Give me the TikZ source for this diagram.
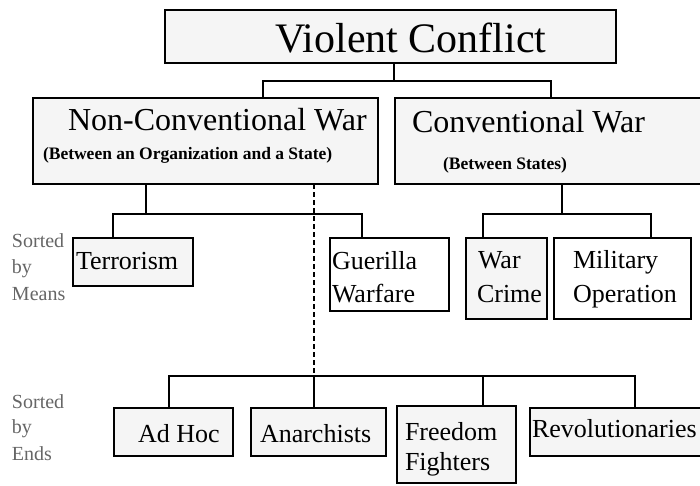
\documentclass[tikz,border=0pt]{standalone}
\usepackage{fontspec}
\setmainfont{Liberation Serif}
\begin{document}
\begin{tikzpicture}[x=1pt,y=-1pt,
  box/.style={draw, line width=1.7pt, fill=black!4, inner sep=0pt, outer sep=0pt, anchor=north west},
  wbox/.style={box, fill=white},
  txt/.style={anchor=base west, inner sep=0pt, outer sep=0pt},
  big/.style={txt, font=\fontsize{42}{42}\selectfont},
  mid/.style={txt, font=\fontsize{32}{32}\selectfont},
  sub/.style={txt, font=\bfseries\fontsize{17.5}{17.5}\selectfont},
  sml/.style={txt, font=\fontsize{26}{26}\selectfont},
  side/.style={txt, text=black!60, font=\fontsize{20}{20}\selectfont},
  con/.style={line width=1.6pt, line join=miter},
  dashedcon/.style={line width=1.3pt, dash pattern=on 5pt off 3pt}]
\useasboundingbox (0,0) rectangle (700,485);

% boxes
\node[box, minimum width=451pt, minimum height=53pt] (vc) at (165,10) {};
\node[box, minimum width=345pt, minimum height=86pt] (ncw) at (33,98) {};
\node[box, minimum width=310pt, minimum height=86pt] (cw) at (395,98) {};
\node[box, minimum width=120pt, minimum height=48pt] (ter) at (73,238) {};
\node[wbox, minimum width=119pt, minimum height=73pt] (gue) at (330,238) {};
\node[box, minimum width=81pt, minimum height=81pt] (war) at (466,238) {};
\node[wbox, minimum width=137pt, minimum height=81pt] (mil) at (554,238) {};
\node[box, minimum width=119pt, minimum height=48pt] (adh) at (114,408) {};
\node[box, minimum width=135pt, minimum height=48pt] (ana) at (251,408) {};
\node[box, minimum width=119pt, minimum height=77pt] (fre) at (397,406) {};
\node[box, minimum width=175pt, minimum height=48pt] (rev) at (530,408) {};

% texts
\node[big] (vct) at (275,52) {Violent Conflict};
\node[mid] (ncwt) at (68,130) {Non-Conventional War};
\node[sub] (ncws) at (43,159) {(Between an Organization and a State)};
\node[mid] (cwt) at (412,132) {Conventional War};
\node[sub] (cws) at (443,169) {(Between States)};
\node[sml] (tert) at (76,269) {Terrorism};
\node[sml] (guet1) at (332,269) {Guerilla};
\node[sml] (guet2) at (332,302) {Warfare};
\node[sml] (wart1) at (478,268) {War};
\node[sml] (wart2) at (477,302) {Crime};
\node[sml] (milt1) at (573,268) {Military};
\node[sml] (milt2) at (573,302) {Operation};
\node[sml] (adht) at (138,442) {Ad Hoc};
\node[sml] (anat) at (260,442) {Anarchists};
\node[sml] (fret1) at (405,440) {Freedom};
\node[sml] (fret2) at (405,470) {Fighters};
\node[sml] (revt) at (532,437) {Revolutionaries};

% side labels
\node[side] (m1) at (12,247) {Sorted};
\node[side] (m2) at (12,273) {by};
\node[side] (m3) at (12,300) {Means};
\node[side] (e1) at (12,408) {Sorted};
\node[side] (e2) at (12,433) {by};
\node[side] (e3) at (12,460) {Ends};

% junction coordinates
\coordinate (h1M) at (394,81);
\coordinate (h1L) at (263,81);
\coordinate (h1R) at (551,81);
\coordinate (h2M) at (146,214);
\coordinate (h2L) at (113,214);
\coordinate (h2R) at (362,214);
\coordinate (h3M) at (562,214);
\coordinate (h3L) at (483,214);
\coordinate (h3R) at (651,214);
\coordinate (h4L) at (169,376);
\coordinate (h4R) at (635,376);
\coordinate (h4a) at (314,376);
\coordinate (h4f) at (483,376);

% connectors
\draw[con] (vc.south -| h1M) -- (h1M);
\draw[con] (ncw.north -| h1L) -- (h1L) -- (h1R) -- (cw.north -| h1R);
\draw[con] (ncw.south -| h2M) -- (h2M);
\draw[con] (ter.north -| h2L) -- (h2L) -- (h2R) -- (gue.north -| h2R);
\draw[con] (cw.south -| h3M) -- (h3M);
\draw[con] (war.north -| h3L) -- (h3L) -- (h3R) -- (mil.north -| h3R);
\draw[dashedcon] (ncw.south -| h4a) -- (h4a);
\draw[con] (adh.north -| h4L) -- (h4L) -- (h4R) -- (rev.north -| h4R);
\draw[con] (h4a) -- (ana.north -| h4a);
\draw[con] (h4f) -- (fre.north -| h4f);
\end{tikzpicture}
\end{document}
